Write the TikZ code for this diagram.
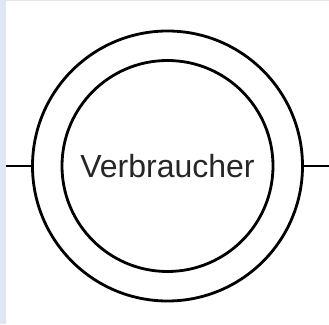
\documentclass[tikz,border=0pt]{standalone}
\usepackage{fontspec}
\setmainfont{Liberation Sans}
\usetikzlibrary{calc}
\definecolor{bandblue}{RGB}{223,231,245}

\begin{document}
\begin{tikzpicture}[x=1pt,y=1pt,
  ring/.style={circle,draw,line width=2.8pt,inner sep=0pt},
  wire/.style={line width=2.8pt}]
\useasboundingbox (0,0) rectangle (329,324);
\fill [white] (0,0) rectangle (329,324);
\fill [bandblue] (0,0) rectangle (6,324);
\fill [bandblue] (0,323) rectangle (329,324);

\node[ring,minimum size=270pt] (outer) at (167.5,158) {};
\node[ring,minimum size=211pt,font=\fontsize{32}{38}\selectfont,text=black!85] (inner) at (outer.center) {Verbraucher};

\coordinate (inL) at (6,158);
\coordinate (outR) at (329,158);
\draw[wire] (inL) -- (outer.west);
\draw[wire] (outer.east) -- (outR);

\end{tikzpicture}
\end{document}
